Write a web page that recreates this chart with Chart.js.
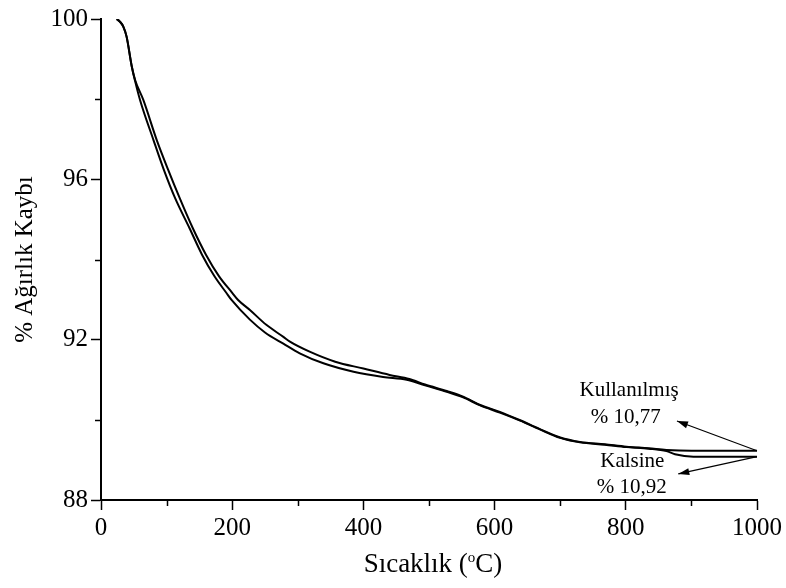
<!DOCTYPE html>
<html><head><meta charset="utf-8">
<script src="https://cdn.jsdelivr.net/npm/chart.js@4/dist/chart.umd.min.js"></script>
<style>html,body{margin:0;padding:0;background:#fff}#wrap{width:786px;height:588px}</style>
</head><body><div id="wrap"><canvas id="c" width="786" height="588"></canvas></div>
<script>
// ---- data ----
const seriesNames = ['Kullanılmış', 'Kalsine'];
const lossLabels = ['% 10,77', '% 10,92'];

const tempKullanilmis = [24, 29, 34, 39, 47, 52, 64.5, 85, 102.6, 120, 140, 160, 180, 200, 209, 227, 252, 278, 288, 318, 357, 400, 440, 470, 494, 527, 552, 578, 608, 639, 669, 700, 730, 768, 801, 835, 862, 900, 950, 1000];
const weightKullanilmis = [100, 99.93, 99.81, 99.56, 98.81, 98.48, 97.98, 96.98, 96.23, 95.53, 94.78, 94.12, 93.58, 93.17, 92.99, 92.74, 92.37, 92.07, 91.95, 91.70, 91.45, 91.28, 91.12, 91.02, 90.88, 90.72, 90.58, 90.37, 90.20, 89.99, 89.77, 89.56, 89.45, 89.39, 89.33, 89.29, 89.25, 89.23, 89.23, 89.23];

const tempKalsine = [24, 29, 34, 39, 47, 52, 59.5, 80, 96, 113, 135, 154, 173, 191, 199, 227, 250, 278, 303, 339, 385, 430, 466, 494, 527, 552, 578, 608, 639, 669, 700, 730, 768, 801, 835, 862, 875, 903, 950, 1000];
const weightKalsine = [100, 99.93, 99.81, 99.56, 98.81, 98.45, 97.98, 96.98, 96.23, 95.53, 94.78, 94.12, 93.58, 93.17, 92.99, 92.50, 92.18, 91.90, 91.66, 91.41, 91.20, 91.07, 91.00, 90.86, 90.70, 90.56, 90.36, 90.18, 89.98, 89.76, 89.55, 89.44, 89.38, 89.32, 89.28, 89.22, 89.14, 89.08, 89.08, 89.08];

const xMajorTicks = [0, 200, 400, 600, 800, 1000];
const xMinorTicks = [100, 300, 500, 700, 900];
const yMajorTicks = [88, 92, 96, 100];
const yMinorTicks = [90, 94, 98];

const xTitleMain = 'Sıcaklık (';
const xTitleSup = 'o';
const xTitleEnd = 'C)';
const yTitle = '% Ağırlık Kaybı';

function toPoints(xs, ys) { return xs.map((x, i) => ({x: x, y: ys[i]})); }

const SERIF = '"Liberation Serif", "Times New Roman", serif';

const extras = {
  id: 'extras',
  afterDraw(chart) {
    const ctx = chart.ctx;
    const xs = chart.scales.x, ys = chart.scales.y;
    const left = chart.chartArea.left, bottom = chart.chartArea.bottom;
    ctx.save();
    ctx.strokeStyle = '#000';
    ctx.lineWidth = 1.5;
    // minor ticks
    yMinorTicks.forEach(v => {
      const py = Math.round(ys.getPixelForValue(v)) + 0.5;
      ctx.beginPath(); ctx.moveTo(left - 6, py); ctx.lineTo(left, py); ctx.stroke();
    });
    xMinorTicks.forEach(v => {
      const px = Math.round(xs.getPixelForValue(v)) + 0.5;
      ctx.beginPath(); ctx.moveTo(px, bottom); ctx.lineTo(px, bottom + 6); ctx.stroke();
    });
    // x axis title with superscript
    ctx.fillStyle = '#000';
    ctx.textBaseline = 'alphabetic';
    ctx.font = '27px ' + SERIF;
    const w1 = ctx.measureText(xTitleMain).width;
    const w3 = ctx.measureText(xTitleEnd).width;
    ctx.font = '15px ' + SERIF;
    const w2 = ctx.measureText(xTitleSup).width;
    const total = w1 + w2 + w3;
    const cx = (chart.chartArea.left + chart.chartArea.right) / 2 + 4;
    let x0 = cx - total / 2;
    const base = 572;
    ctx.textAlign = 'left';
    ctx.font = '27px ' + SERIF;
    ctx.fillText(xTitleMain, x0, base);
    ctx.font = '15px ' + SERIF;
    ctx.fillText(xTitleSup, x0 + w1, base - 10);
    ctx.font = '27px ' + SERIF;
    ctx.fillText(xTitleEnd, x0 + w1 + w2, base);

    // annotations
    ctx.font = '21px ' + SERIF;
    ctx.textAlign = 'center';
    ctx.textBaseline = 'middle';
    const P = (x, y) => [xs.getPixelForValue(x), ys.getPixelForValue(y)];
    const labels = [
      [seriesNames[0], 805, 90.74],
      [lossLabels[0], 800, 90.07],
      [seriesNames[1], 810, 88.95],
      [lossLabels[1], 809, 88.32]
    ];
    labels.forEach(([t, x, y]) => { const [px, py] = P(x, y); ctx.fillText(t, px, py); });

    function arrow(x1, y1, x2, y2) {
      const [a, b] = P(x1, y1), [c, d] = P(x2, y2);
      ctx.lineWidth = 1.2;
      ctx.beginPath(); ctx.moveTo(a, b); ctx.lineTo(c, d); ctx.stroke();
      const ang = Math.atan2(d - b, c - a);
      const L = 11, W = 3.5;
      ctx.beginPath();
      ctx.moveTo(c, d);
      ctx.lineTo(c - L * Math.cos(ang) + W * Math.sin(ang), d - L * Math.sin(ang) - W * Math.cos(ang));
      ctx.lineTo(c - L * Math.cos(ang) - W * Math.sin(ang), d - L * Math.sin(ang) + W * Math.cos(ang));
      ctx.closePath(); ctx.fill();
    }
    arrow(1000, weightKullanilmis[weightKullanilmis.length - 1], 878, 89.97);
    arrow(1000, weightKalsine[weightKalsine.length - 1], 880, 88.65);
    ctx.restore();
  }
};

new Chart(document.getElementById('c'), {
  type: 'line',
  data: {
    datasets: [
      { label: seriesNames[0], data: toPoints(tempKullanilmis, weightKullanilmis), borderColor: '#000', borderWidth: 2, pointRadius: 0, fill: false, cubicInterpolationMode: 'monotone' },
      { label: seriesNames[1], data: toPoints(tempKalsine, weightKalsine), borderColor: '#000', borderWidth: 2, pointRadius: 0, fill: false, cubicInterpolationMode: 'monotone' }
    ]
  },
  options: {
    responsive: false,
    devicePixelRatio: 1,
    animation: false,
    layout: { padding: { top: 19, right: 29, left: 0, bottom: 0 } },
    plugins: { legend: { display: false }, tooltip: { enabled: false } },
    scales: {
      x: {
        type: 'linear', min: 0, max: 1000,
        afterFit(s) { s.height = 88; },
        afterBuildTicks(s) { s.ticks = xMajorTicks.map(v => ({value: v})); },
        ticks: { color: '#000', font: { family: SERIF, size: 25 }, padding: 3, maxRotation: 0, callback: v => String(v) },
        grid: { display: true, drawOnChartArea: false, drawTicks: true, tickLength: 10, tickColor: '#000', tickWidth: 1.5 },
        border: { display: true, color: '#000', width: 2 },
        title: { display: false }
      },
      y: {
        type: 'linear', min: 88, max: 100,
        afterFit(s) { s.width = 101; },
        afterBuildTicks(s) { s.ticks = yMajorTicks.map(v => ({value: v})); },
        ticks: { color: '#000', font: { family: SERIF, size: 25 }, padding: 3, callback: v => String(v) },
        grid: { display: true, drawOnChartArea: false, drawTicks: true, tickLength: 10, tickColor: '#000', tickWidth: 1.5 },
        border: { display: true, color: '#000', width: 2 },
        title: { display: true, text: yTitle, color: '#000', font: { family: SERIF, size: 25 }, padding: { top: 10, bottom: 0 } }
      }
    }
  },
  plugins: [extras]
});
</script>
</body></html>
